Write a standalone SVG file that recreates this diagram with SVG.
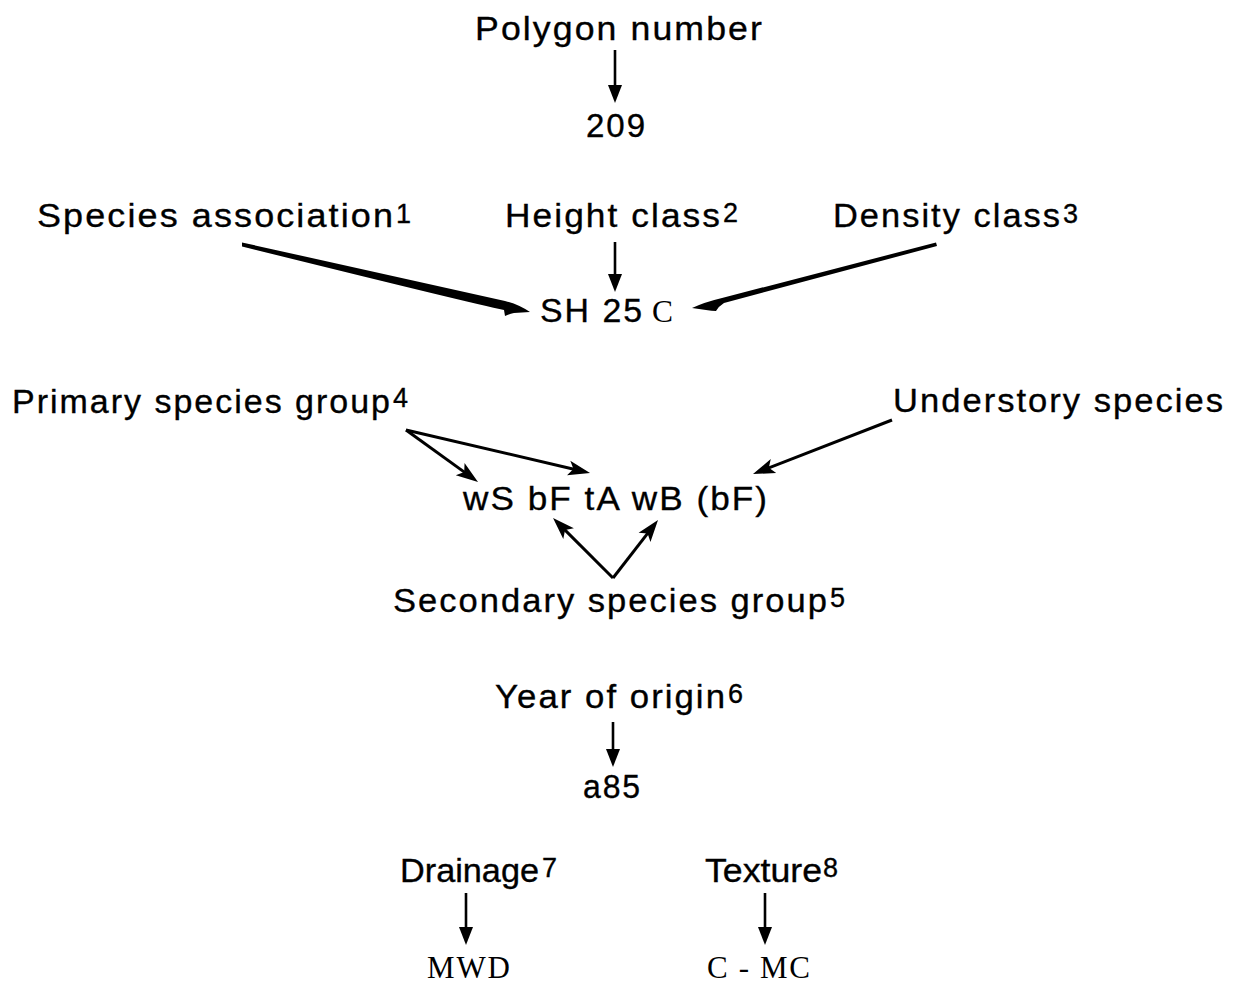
<svg xmlns="http://www.w3.org/2000/svg" width="1239" height="983" viewBox="0 0 1239 983">
  <style>
    .lbl { font-family: "Liberation Sans", Arial, Helvetica, sans-serif; font-size: 34px; letter-spacing: 2px; fill: #000; stroke: #000; stroke-width: 0.35; }
    .tight { letter-spacing: 0px; }
    .sup { font-family: "Liberation Sans", Arial, Helvetica, sans-serif; font-size: 27px; fill: #000; stroke: #000; stroke-width: 0.35; }
    .code { font-family: "Liberation Serif", "Times New Roman", serif; font-size: 31px; fill: #000; }
    .ln { stroke: #000; stroke-width: 2.6; fill: none; }
    .dg { stroke: #000; stroke-width: 3; fill: none; }
    .swoosh { fill: #000; stroke: none; }
  </style>
  <defs>
    <!-- plain triangular head for the vertical pointers -->
    <marker id="tri" viewBox="-10 -8 20 16" refX="0" refY="0" markerWidth="20" markerHeight="16" markerUnits="userSpaceOnUse" orient="auto">
      <path d="M9,0 L-9,-7 L-9,7 Z" fill="#000"/>
    </marker>
    <!-- barbed head for the slanted pointers -->
    <marker id="barb" viewBox="-12 -9 24 18" refX="0" refY="0" markerWidth="24" markerHeight="18" markerUnits="userSpaceOnUse" orient="auto">
      <path d="M10,0 L-12,-7.5 L-7,0 L-12,7.5 Z" fill="#000"/>
    </marker>
  </defs>

  <rect width="1239" height="983" fill="#fff"/>

  <g id="connectors">
    <!-- vertical pointers -->
    <line class="ln" x1="615" y1="50" x2="615" y2="94" marker-end="url(#tri)"/>
    <line class="ln" x1="615" y1="242" x2="615" y2="283" marker-end="url(#tri)"/>
    <line class="ln" x1="613" y1="722" x2="613" y2="758" marker-end="url(#tri)"/>
    <line class="ln" x1="466" y1="893" x2="466" y2="936" marker-end="url(#tri)"/>
    <line class="ln" x1="765" y1="893" x2="765" y2="936" marker-end="url(#tri)"/>

    <!-- tapered strokes into the SH 25 C code -->
    <path class="swoosh" d="M242,242.5 L505,301 Q518,304 530,312 L514,313 Q509,314 505,316 L504,310 Q470,303 242,246.5 Z"/>
    <path class="swoosh" d="M936,242.5 L722,298 Q705,302 692,308 L706,310 Q712,311 716,311 Q719,306 724,303 L937,246 Z"/>

    <!-- species-group pointers -->
    <line class="dg" x1="406" y1="430" x2="469.9" y2="476.1" marker-end="url(#barb)"/>
    <line class="dg" x1="406" y1="430" x2="580.3" y2="470.7" marker-end="url(#barb)"/>
    <line class="dg" x1="892" y1="420" x2="762.3" y2="470.4" marker-end="url(#barb)"/>
    <line class="dg" x1="613" y1="578" x2="560.1" y2="525.1" marker-end="url(#barb)"/>
    <line class="dg" x1="613" y1="578" x2="651.9" y2="527.9" marker-end="url(#barb)"/>
  </g>

  <g id="polygon-number">
    <text class="lbl" x="475" y="40" font-size="33" textLength="289" lengthAdjust="spacingAndGlyphs">Polygon number</text>
  </g>
  <g id="polygon-value">
    <text class="lbl" x="586" y="137" font-size="36" textLength="61" lengthAdjust="spacingAndGlyphs">209</text>
  </g>

  <g id="species-association">
    <text class="lbl" x="37" y="227" textLength="358" lengthAdjust="spacingAndGlyphs">Species association</text>
    <text class="sup" x="396" y="223">1</text>
  </g>
  <g id="height-class">
    <text class="lbl" x="505" y="227" textLength="217" lengthAdjust="spacingAndGlyphs">Height class</text>
    <text class="sup" x="723" y="222">2</text>
  </g>
  <g id="density-class">
    <text class="lbl" x="833" y="227" textLength="229" lengthAdjust="spacingAndGlyphs">Density class</text>
    <text class="sup" x="1063" y="223">3</text>
  </g>
  <g id="stand-code">
    <text class="lbl" x="540" y="322" font-size="34" textLength="104" lengthAdjust="spacingAndGlyphs">SH 25</text>
    <text class="code" x="652" y="322" font-size="22" textLength="21" lengthAdjust="spacingAndGlyphs">C</text>
  </g>

  <g id="primary-species">
    <text class="lbl" x="12" y="413" font-size="35" textLength="380" lengthAdjust="spacingAndGlyphs">Primary species group</text>
    <text class="sup" x="393" y="407">4</text>
  </g>
  <g id="understory-species">
    <text class="lbl" x="893" y="412" font-size="36" textLength="332" lengthAdjust="spacingAndGlyphs">Understory species</text>
  </g>
  <g id="species-code">
    <text class="lbl" x="463" y="510" textLength="306" lengthAdjust="spacingAndGlyphs">wS bF tA wB (bF)</text>
  </g>
  <g id="secondary-species">
    <text class="lbl" x="393" y="612" textLength="436" lengthAdjust="spacingAndGlyphs">Secondary species group</text>
    <text class="sup" x="830" y="607">5</text>
  </g>

  <g id="year-of-origin">
    <text class="lbl" x="495" y="708" font-size="35" textLength="232" lengthAdjust="spacingAndGlyphs">Year of origin</text>
    <text class="sup" x="728" y="703">6</text>
  </g>
  <g id="origin-value">
    <text class="lbl" x="583" y="798" font-size="33" textLength="59" lengthAdjust="spacingAndGlyphs">a85</text>
  </g>

  <g id="drainage">
    <text class="lbl tight" x="400" y="882" textLength="139" lengthAdjust="spacingAndGlyphs">Drainage</text>
    <text class="sup" x="542" y="877">7</text>
  </g>
  <g id="drainage-value">
    <text class="code" x="427" y="978" textLength="83" lengthAdjust="spacing">MWD</text>
  </g>
  <g id="texture">
    <text class="lbl tight" x="705" y="882" textLength="117" lengthAdjust="spacingAndGlyphs">Texture</text>
    <text class="sup" x="823" y="877">8</text>
  </g>
  <g id="texture-value">
    <text class="code" x="707" y="978" textLength="103" lengthAdjust="spacing">C - MC</text>
  </g>
</svg>
